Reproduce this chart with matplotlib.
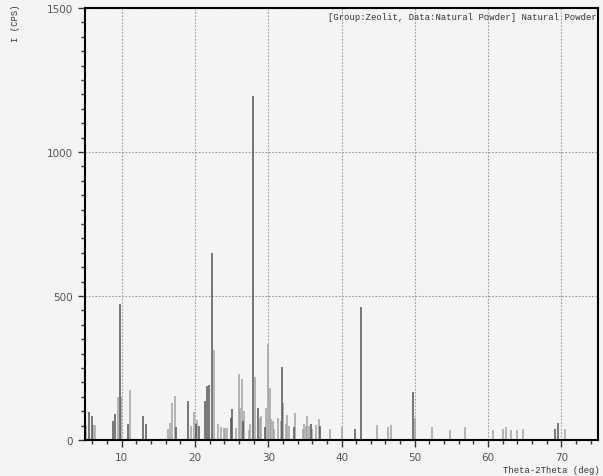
import matplotlib.pyplot as plt
from matplotlib.ticker import MultipleLocator

# peak positions (2theta, deg) and intensities (cps)
dark_pos = [5.6, 5.9, 8.85, 9.1, 9.75, 10.9, 12.97, 13.3, 17.4, 19.0, 20.2, 20.5,
            21.4, 21.6, 21.9, 22.3, 24.9, 25.0, 26.6, 27.9, 28.55, 29.5, 31.85,
            33.5, 35.8, 37.05, 41.85, 42.7, 49.8, 69.2, 69.6]
dark_int = [96, 84, 67, 90, 472, 55, 84, 55, 46, 135, 55, 50,
            135, 186, 191, 649, 76, 108, 65, 1195, 111, 44, 253,
            44, 55, 47, 38, 461, 166, 38, 59]

light_pos = [5.2, 6.1, 6.3, 9.5, 9.9, 11.1, 16.3, 16.6, 16.9, 17.3, 19.5, 19.9, 20.3,
             22.6, 23.1, 23.6, 23.9, 24.15, 24.4, 25.6, 26.0, 26.2, 26.4, 26.7,
             27.4, 27.5, 28.2, 28.9, 29.05, 29.7, 30.0, 30.2, 30.4, 30.6, 30.85,
             31.3, 31.75, 32.0, 32.4, 32.6, 32.85, 33.65, 34.7, 34.9, 35.2, 35.35,
             35.6, 36.0, 36.5, 36.9, 38.4, 40.0, 44.9, 46.3, 46.7, 50.0, 52.3,
             54.8, 56.9, 60.7, 62.0, 62.5, 63.1, 64.0, 64.8, 70.45]
light_int = [50, 52, 52, 148, 150, 175, 38, 59, 128, 154, 50, 98, 70,
             313, 55, 46, 42, 42, 42, 42, 229, 111, 212, 102,
             36, 55, 219, 76, 82, 111, 333, 179, 73, 65, 38,
             75, 65, 128, 55, 86, 50, 93, 38, 55, 50, 82,
             50, 38, 53, 73, 38, 44, 52, 46, 52, 75, 46,
             36, 46, 36, 38, 44, 36, 36, 38, 38]

bg = '#f4f4f4'
fig = plt.figure(figsize=(6.03, 4.77), dpi=100, facecolor=bg)
ax = fig.add_axes([0.141, 0.0755, 0.8507, 0.9055], facecolor=bg)

ax.vlines(light_pos, 0, light_int, colors='#a2a2a2', linewidth=1.1)
ax.vlines(dark_pos, 0, dark_int, colors='#555555', linewidth=1.1)

ax.set_xlim(5, 75)
ax.set_ylim(0, 1500)
ax.xaxis.set_major_locator(MultipleLocator(10))
ax.xaxis.set_minor_locator(MultipleLocator(2))
ax.yaxis.set_major_locator(MultipleLocator(500))
ax.yaxis.set_minor_locator(MultipleLocator(50))
ax.grid(True, which='major', linestyle=(0, (1.5, 1.5)), color='#999999', linewidth=0.8)
ax.set_axisbelow(True)

for s in ax.spines.values():
    s.set_color('black')
    s.set_linewidth(1.5)
ax.tick_params(which='major', direction='out', length=5, width=1, color='#333333',
               labelsize=7.5, labelcolor='#555555')
ax.tick_params(which='minor', direction='out', length=3, width=1, color='#333333')

mono = 'Liberation Mono'
ax.text(0.997, 0.992, '[Group:Zeolit, Data:Natural Powder] Natural Powder',
        transform=ax.transAxes, ha='right', va='top', family=mono, fontsize=6.4,
        color='#333333')
fig.text(0.995, 0.004, 'Theta-2Theta (deg)', ha='right', va='bottom',
         family=mono, fontsize=6.4, color='#333333')
fig.text(0.025, 0.99, 'I (CPS)', rotation=90, ha='center', va='top',
         family=mono, fontsize=6.4, color='#333333')

fig.savefig('out.png', dpi=100, facecolor=bg)
